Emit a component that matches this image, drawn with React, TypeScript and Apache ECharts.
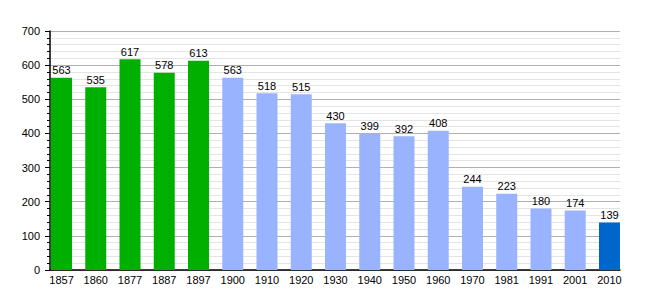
import React, { useEffect, useRef } from "react";
import * as echarts from "echarts";

const years = ["1857", "1860", "1877", "1887", "1897", "1900", "1910", "1920", "1930", "1940", "1950", "1960", "1970", "1981", "1991", "2001", "2010"];
const population = [563, 535, 617, 578, 613, 563, 518, 515, 430, 399, 392, 408, 244, 223, 180, 174, 139];
const barColors = ["#00b000", "#00b000", "#00b000", "#00b000", "#00b000", "#99b3ff", "#99b3ff", "#99b3ff", "#99b3ff", "#99b3ff", "#99b3ff", "#99b3ff", "#99b3ff", "#99b3ff", "#99b3ff", "#99b3ff", "#0066cc"];
const yTicks = [0, 100, 200, 300, 400, 500, 600, 700];

export default function App() {
  const ref = useRef<HTMLDivElement>(null);
  useEffect(() => {
    document.body.style.margin = "0";
    const chart = echarts.init(ref.current!, null, { renderer: "svg" });
    const font = "'Liberation Sans', Arial, sans-serif";
    chart.setOption({
      animation: false,
      backgroundColor: "#ffffff",
      grid: { left: 50, right: 30, top: 31, bottom: 30, containLabel: false },
      xAxis: {
        type: "value",
        min: -0.336,
        max: 16.307,
        axisLine: { show: true, onZero: false, lineStyle: { color: "#000", width: 1.5 } },
        axisTick: { show: false },
        splitLine: { show: false },
        axisLabel: {
          customValues: years.map((_, i) => i),
          formatter: (v: number) => years[Math.round(v)] ?? "",
          color: "#000",
          fontSize: 11,
          fontFamily: font,
          margin: 4,
        },
      },
      yAxis: {
        type: "value",
        min: 0,
        max: 700,
        interval: 100,
        axisLine: { show: true, onZero: false, lineStyle: { color: "#000", width: 1.5 } },
        axisTick: { show: true, length: 5, lineStyle: { color: "#000" } },
        minorTick: { show: true, splitNumber: 5, length: 3, lineStyle: { color: "#000" } },
        splitLine: { show: true, lineStyle: { color: "#b0b0b0", width: 1 } },
        minorSplitLine: { show: true, lineStyle: { color: "#e4e4e4", width: 1 } },
        axisLabel: {
          customValues: yTicks,
          color: "#000",
          fontSize: 11,
          fontFamily: font,
          margin: 10,
        },
      },
      series: [
        {
          type: "bar",
          barWidth: 21,
          data: population.map((v, i) => ({ value: [i, v], itemStyle: { color: barColors[i] } })),
          label: {
            show: true,
            position: "top",
            distance: 2,
            color: "#000",
            fontSize: 11,
            fontFamily: font,
            formatter: (p: any) => String(p.value[1]),
          },
        },
      ],
    });
    return () => chart.dispose();
  }, []);
  return <div ref={ref} style={{ width: 650, height: 300 }} />;
}
